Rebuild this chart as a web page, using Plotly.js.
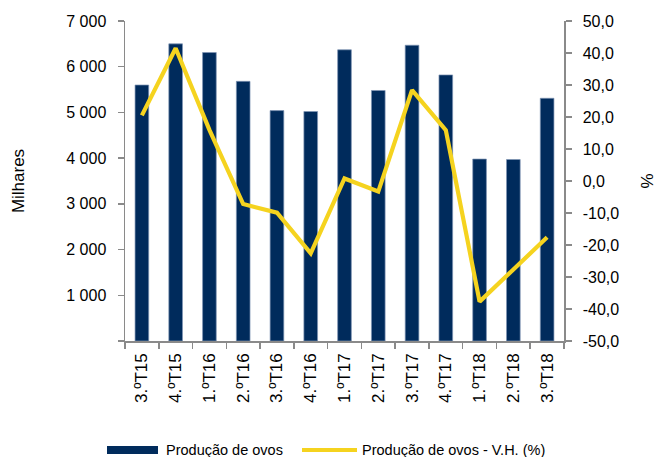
<!DOCTYPE html>
<html>
<head>
<meta charset="utf-8">
<script src="https://cdn.plot.ly/plotly-3.0.1.min.js"></script>
<style>
html,body{margin:0;padding:0;background:#fff;}
#chart{width:657px;height:457px;}
</style>
</head>
<body>
<div id="chart"></div>
<script>
var categories = ["3.ºT15","4.ºT15","1.ºT16","2.ºT16","3.ºT16","4.ºT16","1.ºT17","2.ºT17","3.ºT17","4.ºT17","1.ºT18","2.ºT18","3.ºT18"];
var producao = [5600, 6500, 6310, 5680, 5040, 5020, 6370, 5480, 6470, 5820, 3980, 3970, 5310];
var variacaoHomologa = [20.5, 41.5, 16, -7.2, -9.9, -22.6, 0.8, -3.3, 28.4, 15.9, -37.7, -27.5, -17.6];
var leftTickVals = [0, 1000, 2000, 3000, 4000, 5000, 6000, 7000];
var leftTickText = ["", "1 000", "2 000", "3 000", "4 000", "5 000", "6 000", "7 000"];
var rightTickVals = [-50, -40, -30, -20, -10, 0, 10, 20, 30, 40, 50];
var rightTickText = ["-50,0", "-40,0", "-30,0", "-20,0", "-10,0", "0,0", "10,0", "20,0", "30,0", "40,0", "50,0"];
var legendNames = ["Produção de ovos", "Produção de ovos - V.H. (%)"];

var navy = "#002b5c";
var yellow = "#f5d31f";
var axisGray = "#8a8a8a";
var font = "Liberation Sans, Arial, sans-serif";

var traces = [
  {
    type: "bar",
    x: categories,
    y: producao,
    name: legendNames[0],
    marker: {color: navy, line: {color: "#7f95b5", width: 0.7}},
    yaxis: "y",
    hoverinfo: "x+y"
  },
  {
    type: "scatter",
    mode: "lines",
    x: categories,
    y: variacaoHomologa,
    name: legendNames[1],
    line: {color: yellow, width: 4.2},
    yaxis: "y2",
    hoverinfo: "x+y"
  }
];

var L = 125, R = 564, T = 21, B = 341;
function px(x){ return (x - L) / (R - L); }
function py(y){ return (B - y) / (B - T); }

var layout = {
  width: 657,
  height: 457,
  margin: {l: L, r: 657 - R, t: T, b: 457 - B, pad: 0},
  paper_bgcolor: "#fff",
  plot_bgcolor: "#fff",
  showlegend: false,
  bargap: 0.595,
  font: {family: font, color: "#000", size: 16},
  xaxis: {
    type: "category",
    showline: true,
    linecolor: axisGray,
    linewidth: 1.5,
    ticks: "outside",
    tickson: "boundaries",
    ticklen: 6,
    tickcolor: axisGray,
    tickwidth: 1.5,
    tickangle: -90,
    tickfont: {family: font, size: 17, color: "#000"},
    ticklabelstandoff: 4,
    showgrid: false,
    zeroline: false,
    fixedrange: true
  },
  yaxis: {
    range: [0, 7000],
    tickvals: leftTickVals,
    ticktext: leftTickText,
    showline: true,
    linecolor: axisGray,
    linewidth: 1.5,
    ticks: "outside",
    ticklen: 6,
    tickcolor: axisGray,
    tickwidth: 1.5,
    tickfont: {family: font, size: 16, color: "#000"},
    ticklabelstandoff: 8,
    showgrid: false,
    zeroline: false,
    title: {text: "Milhares", font: {family: font, size: 17, color: "#000"}, standoff: 37},
    fixedrange: true
  },
  yaxis2: {
    overlaying: "y",
    side: "right",
    range: [-50, 50],
    tickvals: rightTickVals,
    ticktext: rightTickText,
    showline: true,
    linecolor: axisGray,
    linewidth: 1.5,
    ticks: "outside",
    ticklen: 6,
    tickcolor: axisGray,
    tickwidth: 1.5,
    tickfont: {family: font, size: 16, color: "#000"},
    ticklabelstandoff: 8,
    showgrid: false,
    zeroline: false,
    title: {text: "%", font: {family: font, size: 17, color: "#000"}, standoff: 23},
    fixedrange: true
  },
  shapes: [
    {type: "rect", xref: "paper", yref: "paper", x0: px(107), x1: px(158), y0: py(446), y1: py(454),
     fillcolor: navy, line: {width: 0}},
    {type: "line", xref: "paper", yref: "paper", x0: px(302), x1: px(357), y0: py(450), y1: py(450),
     line: {color: yellow, width: 4}}
  ],
  annotations: [
    {xref: "paper", yref: "paper", x: px(164), y: py(450), xanchor: "left", yanchor: "middle",
     text: legendNames[0], showarrow: false, font: {family: font, size: 14.5, color: "#000"}},
    {xref: "paper", yref: "paper", x: px(360), y: py(450), xanchor: "left", yanchor: "middle",
     text: legendNames[1], showarrow: false, font: {family: font, size: 14.5, color: "#000"}}
  ]
};

Plotly.newPlot("chart", traces, layout, {displayModeBar: false, staticPlot: true});
</script>
</body>
</html>
